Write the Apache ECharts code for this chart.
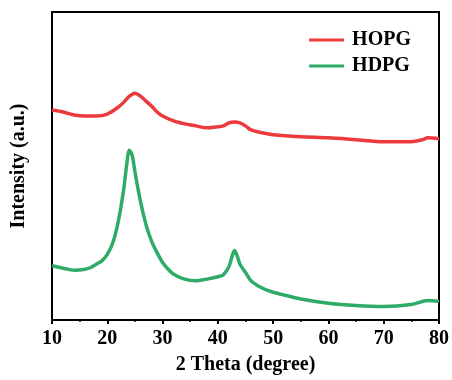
<!DOCTYPE html>
<html><head><meta charset="utf-8">
<script src="https://cdn.jsdelivr.net/npm/echarts@6/dist/echarts.min.js"></script>
<style>html,body{margin:0;padding:0;background:#fff}#c{width:452px;height:380px}</style>
</head><body><div id="c"></div>
<script>
const xTicks = [10,20,30,40,50,60,70,80];
const hopgX = [10,12,14,16,18,20,22,23,24,25,26,27,28,29,30,32,34,36,38,40,41,42,43,44,45,46,48,50,55,60,65,70,75,77,78,80];
const hopgY = [212,210,207,206,206,208,215,220,226,229,226,221,216,210,206,201,198,196,194,195,196,199,200,199,196,192,189,187,185,184,182,180,180,182,184,183];
const hdpgX = [10,12,14,16,17,18,19,20,21,22,23,23.5,24,24.5,25,26,27,28,29,30,31,32,34,36,38,40,41,42,42.5,43,43.5,44,45,46,48,50,52,55,60,65,70,75,78,80];
const hdpgY = [54.7,52.3,50.3,51.3,53,56.3,59.7,66.3,78,99.7,133,156.3,171.3,166.3,149.7,119.7,96.3,79.7,68,58,51.3,46.3,41.3,39.7,41.3,43.7,45.7,53.7,63,70.3,64.7,56.3,48,39.7,32.3,28,25.3,21.3,17,14.7,13.7,15.7,19.7,18.7];

const font = '"Liberation Serif","Times New Roman",serif';
const pair = (xs, ys) => xs.map((x, i) => [x, ys[i]]);
const chart = echarts.init(document.getElementById('c'));
chart.setOption({
  animation: false,
  backgroundColor: '#fff',
  grid: {left: 52, right: 12, top: 12, bottom: 57, show: true, borderColor: '#000', borderWidth: 2},
  legend: {
    right: 36, top: 25, orient: 'vertical', itemGap: 6, itemWidth: 35, itemHeight: 3,
    icon: 'rect',
    textStyle: {fontFamily: font, fontWeight: 'bold', fontSize: 20, color: '#000', padding: [0, 0, 0, 3]},
    data: ['HOPG', 'HDPG']
  },
  xAxis: {
    type: 'value', min: 10, max: 80, interval: 10,
    axisLine: {show: true, lineStyle: {color: '#000', width: 2}},
    axisTick: {show: true, inside: false, length: 4, lineStyle: {color: '#000', width: 2}},
    minorTick: {show: true, splitNumber: 2, length: 2, lineStyle: {color: '#000', width: 1.5}},
    splitLine: {show: false},
    axisLabel: {fontFamily: font, fontWeight: 'bold', fontSize: 20, color: '#000', margin: 9,
      formatter: v => xTicks.includes(v) ? String(v) : ''},
    name: '2 Theta (degree)', nameLocation: 'middle', nameGap: 35,
    nameTextStyle: {fontFamily: font, fontWeight: 'bold', fontSize: 20, color: '#000'}
  },
  yAxis: {
    type: 'value', min: 0, max: 311,
    axisLine: {show: true, lineStyle: {color: '#000', width: 2}},
    axisTick: {show: false}, axisLabel: {show: false}, splitLine: {show: false},
    name: 'Intensity (a.u.)', nameLocation: 'middle', nameGap: 23,
    nameTextStyle: {fontFamily: font, fontWeight: 'bold', fontSize: 20, color: '#000'}
  },
  series: [
    {name: 'HOPG', type: 'line', data: pair(hopgX, hopgY), smooth: 0.3, showSymbol: false,
     lineStyle: {color: '#ec3a3c', width: 3.5}, itemStyle: {color: '#ec3a3c'}},
    {name: 'HDPG', type: 'line', data: pair(hdpgX, hdpgY), smooth: 0.3, showSymbol: false,
     lineStyle: {color: '#2fab68', width: 3.5}, itemStyle: {color: '#2fab68'}}
  ]
});
</script></body></html>
